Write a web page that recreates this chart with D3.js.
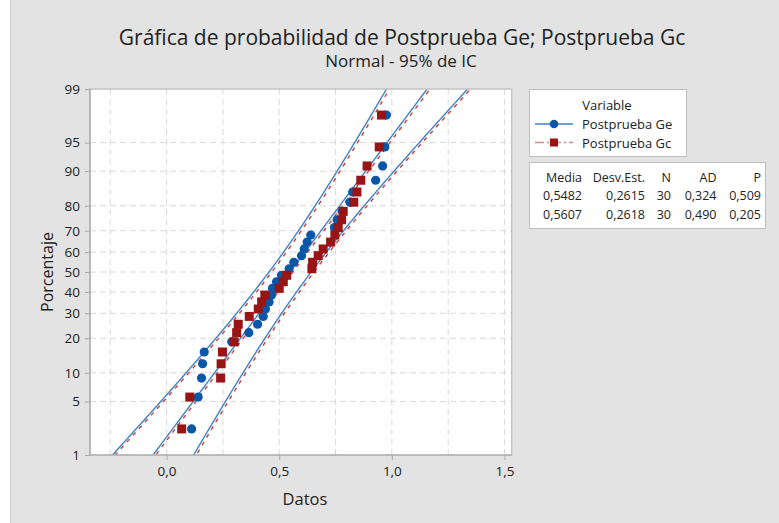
<!DOCTYPE html>
<html>
<head>
<meta charset="utf-8">
<script src="https://cdn.jsdelivr.net/npm/d3@7"></script>
<style>
  html, body { margin: 0; padding: 0; background: #fff; }
  svg text { font-family: "Open Sans", "Noto Sans", sans-serif; fill: #222; }
</style>
</head>
<body>
<div id="chart"></div>
<script>
// Normal probability plot - Postprueba Ge / Postprueba Gc

// sorted data values
var ge = [0.111, 0.140, 0.155, 0.160, 0.167, 0.289, 0.365, 0.404, 0.429, 0.439,
          0.455, 0.466, 0.470, 0.488, 0.510, 0.544, 0.565, 0.599, 0.611, 0.624,
          0.640, 0.745, 0.757, 0.779, 0.814, 0.826, 0.928, 0.959, 0.969, 0.976];
var gc = [0.067, 0.103, 0.240, 0.242, 0.248, 0.300, 0.311, 0.318, 0.367, 0.407,
          0.422, 0.436, 0.500, 0.518, 0.533, 0.645, 0.648, 0.673, 0.695, 0.728,
          0.747, 0.762, 0.777, 0.784, 0.831, 0.845, 0.862, 0.890, 0.944, 0.954];

var seriesNames = ['Postprueba Ge', 'Postprueba Gc'];
var means = [0.5482, 0.5607];
var sds = [0.2615, 0.2618];
var counts = [30, 30];
var adStats = ['0,324', '0,490'];
var pValues = ['0,509', '0,205'];
var meanLabels = ['0,5482', '0,5607'];
var sdLabels = ['0,2615', '0,2618'];

var pctTicks = [1, 5, 10, 20, 30, 40, 50, 60, 70, 80, 90, 95, 99];
var xTicks = [0, 0.5, 1.0, 1.5];
var xGrid = [-0.25, 0, 0.25, 0.5, 0.75, 1.0, 1.25, 1.5];

(function() {
  'use strict';

  var blueLine = '#3f80c6', bluePt = '#0a57a8';
  var redLine = '#c8403e', redPt = '#971515';

  // inverse normal cdf (Acklam)
  function probit(p) {
    var a = [-39.69683028665376, 220.9460984245205, -275.9285104469687, 138.3577518672690, -30.66479806614716, 2.506628277459239];
    var b = [-54.47609879822406, 161.5858368580409, -155.6989798598866, 66.80131188771972, -13.28068155288572];
    var c = [-0.007784894002430293, -0.3223964580411365, -2.400758277161838, -2.549732539343734, 4.374664141464968, 2.938163982698783];
    var d = [0.007784695709041462, 0.3224671290700398, 2.445134137142996, 3.754408661907416];
    var q, r;
    if (p < 0.02425) {
      q = Math.sqrt(-2 * Math.log(p));
      return (((((c[0]*q+c[1])*q+c[2])*q+c[3])*q+c[4])*q+c[5]) / ((((d[0]*q+d[1])*q+d[2])*q+d[3])*q+1);
    }
    if (p > 1 - 0.02425) {
      q = Math.sqrt(-2 * Math.log(1 - p));
      return -(((((c[0]*q+c[1])*q+c[2])*q+c[3])*q+c[4])*q+c[5]) / ((((d[0]*q+d[1])*q+d[2])*q+d[3])*q+1);
    }
    q = p - 0.5; r = q * q;
    return (((((a[0]*r+a[1])*r+a[2])*r+a[3])*r+a[4])*r+a[5])*q / (((((b[0]*r+b[1])*r+b[2])*r+b[3])*r+b[4])*r+1);
  }

  var W = 779, H = 523;
  var pL = 90, pR = 511.7, pT = 89, pB = 455;
  var zMax = probit(0.99);

  var x = d3.scaleLinear().domain([-0.34, 1.532]).range([pL, pR]);
  var y = d3.scaleLinear().domain([-zMax, zMax]).range([pB, pT]);

  var svg = d3.select('#chart').append('svg').attr('width', W).attr('height', H);

  // background
  svg.append('rect').attr('x', 10.5).attr('y', -1).attr('width', W).attr('height', H + 2)
    .attr('fill', '#e3e3e3').attr('stroke', '#d0d0d0');

  // title
  svg.append('text').attr('x', 402).attr('y', 45).attr('text-anchor', 'middle')
    .attr('font-size', '21px').text('Gráfica de probabilidad de Postprueba Ge; Postprueba Gc');
  svg.append('text').attr('x', 401).attr('y', 67).attr('text-anchor', 'middle')
    .attr('font-size', '17px').text('Normal - 95% de IC');

  // plot area
  svg.append('rect').attr('x', pL).attr('y', pT).attr('width', pR - pL).attr('height', pB - pT)
    .attr('fill', '#fff');

  svg.append('defs').append('clipPath').attr('id', 'clip')
    .append('rect').attr('x', pL).attr('y', pT).attr('width', pR - pL).attr('height', pB - pT);

  // grid
  var grid = svg.append('g');
  grid.selectAll('.vg').data(xGrid).enter().append('line')
    .attr('x1', function(d) { return x(d); }).attr('x2', function(d) { return x(d); })
    .attr('y1', pT).attr('y2', pB)
    .attr('stroke', '#d9d9d9').attr('stroke-width', 1).attr('stroke-dasharray', '6,4');
  grid.selectAll('.hg').data(pctTicks.slice(1, -1)).enter().append('line')
    .attr('x1', pL).attr('x2', pR)
    .attr('y1', function(d) { return y(probit(d / 100)); }).attr('y2', function(d) { return y(probit(d / 100)); })
    .attr('stroke', '#d9d9d9').attr('stroke-width', 1).attr('stroke-dasharray', '6,4');

  // fit lines and 95% confidence bands from the table's mean / sd / N
  var plot = svg.append('g').attr('clip-path', 'url(#clip)');
  var zs = d3.range(-2.5, 2.51, 0.05);

  function bandLines(k) {
    var m = means[k], s = sds[k], n = counts[k];
    var hw = function(z) { return 1.96 * s * Math.sqrt(1 / n + z * z / (2 * n)); };
    return [
      zs.map(function(z) { return [m + s * z - hw(z), z]; }),
      zs.map(function(z) { return [m + s * z, z]; }),
      zs.map(function(z) { return [m + s * z + hw(z), z]; })
    ];
  }
  var line = d3.line().x(function(d) { return x(d[0]); }).y(function(d) { return y(d[1]); });

  plot.selectAll('.l0').data(bandLines(0)).enter().append('path')
    .attr('d', line).attr('fill', 'none').attr('stroke', blueLine).attr('stroke-width', 1.4);
  plot.selectAll('.l1').data(bandLines(1)).enter().append('path')
    .attr('d', line).attr('fill', 'none').attr('stroke', redLine).attr('stroke-width', 1.4)
    .attr('stroke-dasharray', '4,5');

  // points at median ranks (i - 0.3) / (n + 0.4)
  function pos(i, n) { return probit((i + 1 - 0.3) / (n + 0.4)); }

  svg.append('g').selectAll('circle').data(ge).enter().append('circle')
    .attr('cx', function(d) { return x(d); })
    .attr('cy', function(d, i) { return y(pos(i, ge.length)); })
    .attr('r', 4.6).attr('fill', bluePt);
  svg.append('g').selectAll('rect').data(gc).enter().append('rect')
    .attr('x', function(d) { return x(d) - 4.5; })
    .attr('y', function(d, i) { return y(pos(i, gc.length)) - 4.5; })
    .attr('width', 9).attr('height', 9).attr('fill', redPt);

  // frame
  svg.append('rect').attr('x', pL).attr('y', pT).attr('width', pR - pL).attr('height', pB - pT)
    .attr('fill', 'none').attr('stroke', '#c4c4c4').attr('stroke-width', 1.5);
  svg.append('line').attr('x1', pL).attr('x2', pL).attr('y1', pT).attr('y2', pB)
    .attr('stroke', '#a8a8a8').attr('stroke-width', 1.2);
  svg.append('line').attr('x1', pL).attr('x2', pR).attr('y1', pB).attr('y2', pB)
    .attr('stroke', '#a8a8a8').attr('stroke-width', 1.2);

  // axes
  var xAxis = svg.append('g').attr('transform', 'translate(0,' + pB + ')')
    .call(d3.axisBottom(x).tickValues(xTicks).tickSize(5).tickPadding(6)
      .tickFormat(function(d) { return d3.format('.1f')(d).replace('.', ','); }));
  var yAxis = svg.append('g').attr('transform', 'translate(' + pL + ',0)')
    .call(d3.axisLeft(y).tickValues(pctTicks.map(function(p) { return probit(p / 100); }))
      .tickSize(5).tickPadding(5).tickFormat(function(d, i) { return pctTicks[i]; }));
  [xAxis, yAxis].forEach(function(a) {
    a.select('.domain').remove();
    a.selectAll('.tick line').attr('stroke', '#a8a8a8');
    a.selectAll('.tick text').attr('font-size', '13.5px').attr('fill', '#333')
      .style('font-family', '"Open Sans", "Noto Sans", sans-serif');
  });

  svg.append('text').attr('x', 305).attr('y', 505).attr('text-anchor', 'middle')
    .attr('font-size', '16.5px').text('Datos');
  svg.append('text').attr('transform', 'translate(53,272) rotate(-90)').attr('text-anchor', 'middle')
    .attr('font-size', '16px').text('Porcentaje');

  // legend
  var lg = svg.append('g');
  lg.append('rect').attr('x', 529.5).attr('y', 89.5).attr('width', 157).attr('height', 67)
    .attr('fill', '#fff').attr('stroke', '#bdbdbd');
  lg.append('text').attr('x', 607).attr('y', 110).attr('text-anchor', 'middle')
    .attr('font-size', '13px').text('Variable');
  var legY = [124, 142.5];
  lg.append('line').attr('x1', 535).attr('x2', 573).attr('y1', legY[0]).attr('y2', legY[0])
    .attr('stroke', blueLine).attr('stroke-width', 1.5);
  lg.append('circle').attr('cx', 554).attr('cy', legY[0]).attr('r', 4.3).attr('fill', bluePt);
  lg.append('line').attr('x1', 535).attr('x2', 573).attr('y1', legY[1]).attr('y2', legY[1])
    .attr('stroke', '#d08a8a').attr('stroke-width', 1.5).attr('stroke-dasharray', '9,3,2,3');
  lg.append('rect').attr('x', 550).attr('y', legY[1] - 4).attr('width', 8).attr('height', 8).attr('fill', redPt);
  lg.selectAll('.lt').data(seriesNames).enter().append('text')
    .attr('x', 582).attr('y', function(d, i) { return legY[i] + 5; })
    .attr('font-size', '13px').text(function(d) { return d; });

  // stats table
  var st = svg.append('g');
  st.append('rect').attr('x', 529.5).attr('y', 162.5).attr('width', 236).attr('height', 66)
    .attr('fill', '#fff').attr('stroke', '#bdbdbd');
  var colX = [582, 645, 671, 716.5, 761];
  var header = ['Media', 'Desv.Est.', 'N', 'AD', 'P'];
  var rows = [header].concat(seriesNames.map(function(s, k) {
    return [meanLabels[k], sdLabels[k], String(counts[k]), adStats[k], pValues[k]];
  }));
  var rowY = [182, 200, 218.5];
  rows.forEach(function(r, ri) {
    st.selectAll('.r' + ri).data(r).enter().append('text')
      .attr('x', function(d, ci) { return colX[ci]; }).attr('y', rowY[ri])
      .attr('text-anchor', 'end').attr('font-size', '12.5px').text(function(d) { return d; });
  });
})();
</script>
</body>
</html>
